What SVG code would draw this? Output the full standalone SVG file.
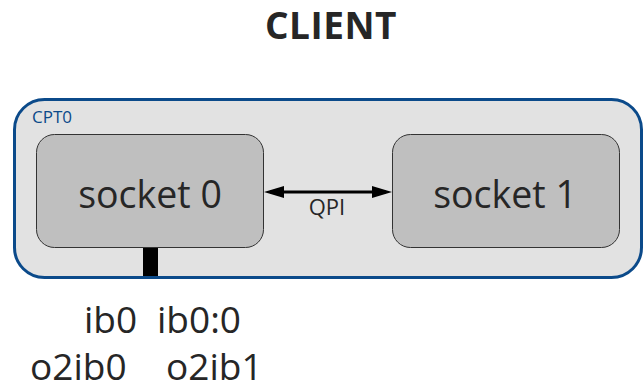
<svg xmlns="http://www.w3.org/2000/svg" width="644" height="386" viewBox="0 0 644 386">
  <style>
    .t { font-family: "Open Sans", "Liberation Sans", sans-serif; fill: #262626; }
    .socket rect { fill: #bfbfbf; stroke: #333333; stroke-width: 1; }
    .conn { stroke: #000000; stroke-width: 3; fill: none; }
  </style>
  <defs>
    <marker id="ah" viewBox="0 0 20 12" refX="14" refY="6" markerWidth="20" markerHeight="12" orient="auto-start-reverse" markerUnits="userSpaceOnUse">
      <path d="M0,0 L20,6 L0,12 z" fill="#000000"/>
    </marker>
  </defs>
  <rect width="644" height="386" fill="#ffffff"/>

  <text class="t" x="331" y="39" text-anchor="middle" font-size="37" font-weight="bold" letter-spacing="0.5">CLIENT</text>

  <g id="cpt0">
    <rect x="14.5" y="99.5" width="627" height="178" rx="30" ry="30" fill="#e2e2e2" stroke="#0b4a8a" stroke-width="3"/>
    <text x="32" y="123" font-family="Open Sans, Liberation Sans, sans-serif" font-size="17" fill="#0b4a8a">CPT0</text>
  </g>

  <g id="socket0" class="socket">
    <rect x="36.5" y="134.5" width="227" height="113" rx="18" ry="18"/>
    <text class="t" x="150" y="208" text-anchor="middle" font-size="37.5">socket 0</text>
  </g>

  <g id="socket1" class="socket">
    <rect x="392.5" y="134.5" width="227" height="113" rx="18" ry="18"/>
    <text class="t" x="505" y="208" text-anchor="middle" font-size="37.5">socket 1</text>
  </g>

  <g id="connectors">
    <line class="conn" x1="270" y1="192" x2="386" y2="192" marker-start="url(#ah)" marker-end="url(#ah)"/>
    <text class="t" x="327" y="215" text-anchor="middle" font-size="22">QPI</text>
    <rect x="143" y="248" width="15" height="28" fill="#000000"/>
  </g>

  <g id="interfaces">
    <text class="t" x="84" y="333" font-size="37">ib0</text>
    <text class="t" x="157" y="333" font-size="37">ib0:0</text>
    <text class="t" x="30" y="380" font-size="37">o2ib0</text>
    <text class="t" x="166" y="380" font-size="37">o2ib1</text>
  </g>
</svg>
